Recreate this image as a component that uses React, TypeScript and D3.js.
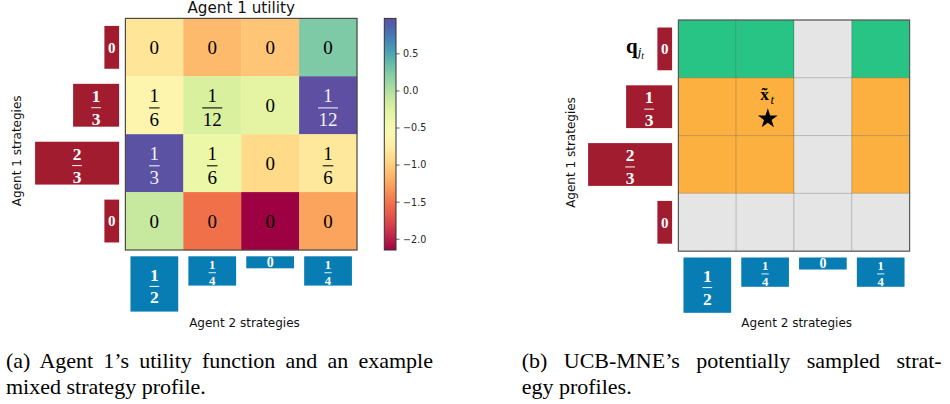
import React, { useLayoutEffect, useRef } from 'react';
import * as d3 from 'd3';

const W = 950;
const H = 404;

// Mixed strategies as [numerator, denominator]
const agent1Strategy: [number, number][] = [[0, 1], [1, 3], [2, 3], [0, 1]];
const agent2Strategy: [number, number][] = [[1, 2], [1, 4], [0, 1], [1, 4]];

// Agent 1 utility (rows: agent 1 actions, cols: agent 2 actions)
const utilityRow0 = [-0.83, -1.13, -1.06, 0.25];
const utilityRow1 = [-0.65, -0.22, -0.3, 0.98];
const utilityRow2 = [0.96, -0.37, -0.92, -0.8];
const utilityRow3 = [-0.11, -1.52, -2.145, -1.25];
const utilityRows = [utilityRow0, utilityRow1, utilityRow2, utilityRow3];
const utilityDomain: [number, number] = [-2.145, 0.978];
const colorbarTicks = [0.5, 0.0, -0.5, -1.0, -1.5, -2.0];

// Right panel: role of each agent-1 row in UCB-MNE sampling
const sampledRowRole = ['q', 'x', 'x', 'none'];
const starCell = { row: 1, col: 1 };

const titleText = 'Agent 1 utility';
const yAxisText = 'Agent 1 strategies';
const xAxisText = 'Agent 2 strategies';
const captionA = ['(a) Agent 1\u2019s utility function and an example', 'mixed strategy profile.'];
const captionB = ['(b) UCB-MNE\u2019s potentially sampled strat-', 'egy profiles.'];

const SANS = 'DejaVu Sans, sans-serif';
const SERIF = 'Liberation Serif, Times New Roman, serif';
const RED = '#a11c2e';
const BLUE = '#087db3';
const GREEN = '#27c485';
const ORANGE = '#fbb03f';
const GRAY = '#e5e5e5';

function gcd(a: number, b: number): number {
  return b === 0 ? a : gcd(b, a % b);
}
function reduce(n: number, d: number): [number, number] {
  if (n === 0) return [0, 1];
  const g = gcd(n, d);
  return [n / g, d / g];
}

type LabelProps = {
  cx: number;
  cy: number;
  frac: [number, number];
  size: number;
  fill: string;
  bold?: boolean;
};

function FracLabel({ cx, cy, frac, size, fill, bold }: LabelProps) {
  const [n, d] = frac;
  const common = {
    fontFamily: SERIF,
    fontSize: size,
    fontWeight: bold ? 700 : 400,
    fill,
    textAnchor: 'middle' as const,
  };
  if (d === 1) {
    return (
      <text x={cx} y={cy + 0.35 * size} {...common}>
        {String(n)}
      </text>
    );
  }
  const barY = cy + 0.14 * size;
  const digits = Math.max(String(n).length, String(d).length);
  const lw = digits * 0.5 * size + 1;
  return (
    <g>
      <text x={cx} y={barY - 0.33 * size} {...common}>
        {String(n)}
      </text>
      <line x1={cx - lw / 2} x2={cx + lw / 2} y1={barY} y2={barY} stroke={fill} strokeWidth={Math.max(0.9, size * 0.055)} />
      <text x={cx} y={barY + 0.97 * size} {...common}>
        {String(d)}
      </text>
    </g>
  );
}

function JustifiedText({ x, y, width, text, size }: { x: number; y: number; width?: number; text: string; size: number }) {
  const ref = useRef<SVGTextElement>(null);
  useLayoutEffect(() => {
    const el = ref.current;
    if (!el || !width) return;
    el.style.wordSpacing = '0px';
    const natural = el.getComputedTextLength();
    const spaces = (text.match(/ /g) || []).length;
    if (spaces > 0) el.style.wordSpacing = `${(width - natural) / spaces}px`;
  }, [text, width]);
  return (
    <text ref={ref} x={x} y={y} fontFamily={SERIF} fontSize={size} fill="#000" style={{ whiteSpace: 'pre' }}>
      {text}
    </text>
  );
}

type PanelGeom = { x0: number; y0: number; size: number };

function StrategyBars({ g }: { g: PanelGeom }) {
  const band = d3.scaleBand<number>().domain([0, 1, 2, 3]).range([g.y0, g.y0 + g.size]);
  const colBand = d3.scaleBand<number>().domain([0, 1, 2, 3]).range([g.x0, g.x0 + g.size]);
  const pScale = d3.scaleLinear().domain([0, 2 / 3]).range([8, 84]);
  const qScale = d3.scaleLinear().domain([0, 1 / 2]).range([3.3, 55.3]);
  const gap = 6.3;
  const barThick = band.bandwidth() * 0.74;
  const colThick = colBand.bandwidth() * 0.825;
  return (
    <g>
      {agent1Strategy.map((s, i) => {
        const p = s[0] / s[1];
        const w = Math.max(14.7, pScale(p));
        const cy = (band(i) as number) + band.bandwidth() / 2;
        const right = g.x0 - gap;
        const size = p === 0 ? 15 : Math.min(17.5, barThick / 2.35);
        return (
          <g key={'a1' + i}>
            <rect x={right - w} y={cy - barThick / 2} width={w} height={barThick} fill={RED} />
            <FracLabel cx={right - w / 2} cy={cy} frac={reduce(s[0], s[1])} size={size} fill="#fff" bold />
          </g>
        );
      })}
      {agent2Strategy.map((s, j) => {
        const q = s[0] / s[1];
        const h = Math.max(12, qScale(q));
        const cx = (colBand(j) as number) + colBand.bandwidth() / 2;
        const top = g.y0 + g.size + gap;
        const size = q === 0 ? 14 : Math.min(17.5, h / 2.3);
        return (
          <g key={'a2' + j}>
            <rect x={cx - colThick / 2} y={top} width={colThick} height={h} fill={BLUE} />
            <FracLabel cx={cx} cy={top + h / 2} frac={reduce(s[0], s[1])} size={size} fill="#fff" bold />
          </g>
        );
      })}
    </g>
  );
}

function UtilityPanel() {
  const g: PanelGeom = { x0: 125.4, y0: 18.4, size: 231.6 };
  const xB = d3.scaleBand<number>().domain([0, 1, 2, 3]).range([g.x0, g.x0 + g.size]);
  const yB = d3.scaleBand<number>().domain([0, 1, 2, 3]).range([g.y0, g.y0 + g.size]);
  const color = d3.scaleSequential(d3.interpolateSpectral).domain(utilityDomain);
  const cb = { x: 384.3, w: 11.7 };
  const cbY = d3.scaleLinear().domain(utilityDomain).range([g.y0 + g.size, g.y0]);
  const stops = d3.range(0, 1.0001, 0.05);
  return (
    <g>
      <defs>
        <linearGradient id="spectral" x1="0" y1="1" x2="0" y2="0">
          {stops.map((t) => (
            <stop key={t} offset={t} stopColor={d3.interpolateSpectral(t)} />
          ))}
        </linearGradient>
      </defs>
      <text x={241.2} y={13.2} fontFamily={SANS} fontSize={15.2} textAnchor="middle" fill="#111">
        {titleText}
      </text>
      {utilityRows.map((row, i) =>
        row.map((v, j) => {
          const x = xB(j) as number;
          const y = yB(i) as number;
          const a = agent1Strategy[i];
          const b = agent2Strategy[j];
          const frac = reduce(a[0] * b[0], a[1] * b[1]);
          return (
            <g key={`c${i}-${j}`}>
              <rect x={x} y={y} width={xB.bandwidth() + 0.3} height={yB.bandwidth() + 0.3} fill={color(v)} />
              <FracLabel
                cx={x + xB.bandwidth() / 2}
                cy={y + yB.bandwidth() / 2}
                frac={frac}
                size={19}
                fill={v > 0.8 ? '#f4f2ff' : '#000'}
              />
            </g>
          );
        })
      )}
      <rect x={g.x0} y={g.y0} width={g.size} height={g.size} fill="none" stroke="#4a4a4a" strokeWidth={1.2} />
      <StrategyBars g={g} />
      {/* colorbar */}
      <rect x={cb.x} y={g.y0} width={cb.w} height={g.size} fill="url(#spectral)" stroke="#333" strokeWidth={1} />
      {colorbarTicks.map((t) => (
        <g key={t}>
          <line x1={cb.x + cb.w} x2={cb.x + cb.w + 3.5} y1={cbY(t)} y2={cbY(t)} stroke="#333" strokeWidth={0.8} />
          <text x={cb.x + cb.w + 7} y={cbY(t)} dy="0.35em" fontFamily={SANS} fontSize={9.6} fill="#262626">
            {t < 0 ? '\u2212' + Math.abs(t).toFixed(1) : t.toFixed(1)}
          </text>
        </g>
      ))}
      <text transform="translate(16.7,150.8) rotate(-90)" fontFamily={SANS} fontSize={12} textAnchor="middle" dy="0.35em" fill="#111">
        {yAxisText}
      </text>
      <text x={244.5} y={326.5} fontFamily={SANS} fontSize={12} textAnchor="middle" fill="#111">
        {xAxisText}
      </text>
    </g>
  );
}

function SamplingPanel() {
  const g: PanelGeom = { x0: 678.4, y0: 20, size: 231.2 };
  const xB = d3.scaleBand<number>().domain([0, 1, 2, 3]).range([g.x0, g.x0 + g.size]);
  const yB = d3.scaleBand<number>().domain([0, 1, 2, 3]).range([g.y0, g.y0 + g.size]);
  const star = d3.symbol().type(d3.symbolStar).size(122)();
  const sx = (xB(starCell.col) as number) + xB.bandwidth() / 2;
  const sy = (yB(starCell.row) as number) + yB.bandwidth() / 2;
  return (
    <g>
      {sampledRowRole.map((role, i) =>
        agent2Strategy.map((s, j) => {
          const supported = s[0] > 0;
          const fill = !supported || role === 'none' ? GRAY : role === 'q' ? GREEN : ORANGE;
          return (
            <rect
              key={`s${i}-${j}`}
              x={xB(j) as number}
              y={yB(i) as number}
              width={xB.bandwidth()}
              height={yB.bandwidth()}
              fill={fill}
              stroke="rgba(0,0,0,0.15)"
              strokeWidth={1}
            />
          );
        })
      )}
      <rect x={g.x0} y={g.y0} width={g.size} height={g.size} fill="none" stroke="#5a5a5a" strokeWidth={1.2} />
      <StrategyBars g={g} />
      {/* q_{j_t} label */}
      <text x={626} y={52.6} fontFamily={SERIF} fill="#000">
        <tspan fontWeight={700} fontSize={21}>q</tspan>
        <tspan fontStyle="italic" fontSize={13} dy={3.5}>j</tspan>
        <tspan fontStyle="italic" fontSize={9.5} dy={2.6}>t</tspan>
      </text>
      {/* x tilde label */}
      <text x={sx - 0.6} y={sy - 6.3} fontFamily={SERIF} fontWeight={700} fontSize={17.5} textAnchor="middle" fill="#000">
        x
      </text>
      <text x={sx - 0.6} y={sy - 6.3} fontFamily={SERIF} fontWeight={700} fontSize={17.5} textAnchor="middle" fill="#000">
        {'\u02dc'}
      </text>
      <text x={sx + 5.4} y={sy - 2.8} fontFamily={SERIF} fontStyle="italic" fontSize={12.5} fill="#000">
        t
      </text>
      <path d={star as string} transform={`translate(${sx + 2.7},${sy + 12})`} fill="#000" />
      <text transform="translate(571,152.5) rotate(-90)" fontFamily={SANS} fontSize={12} textAnchor="middle" dy="0.35em" fill="#111">
        {yAxisText}
      </text>
      <text x={796.7} y={327} fontFamily={SANS} fontSize={12} textAnchor="middle" fill="#111">
        {xAxisText}
      </text>
    </g>
  );
}

export default function App() {
  return (
    <svg width={W} height={H} viewBox={`0 0 ${W} ${H}`} style={{ position: 'absolute', left: 0, top: 0, background: '#fff' }}>
      <rect x={0} y={0} width={W} height={H} fill="#fff" />
      <UtilityPanel />
      <SamplingPanel />
      <JustifiedText x={6} y={368} width={427} text={captionA[0]} size={22} />
      <JustifiedText x={6} y={394} text={captionA[1]} size={22} />
      <JustifiedText x={521.7} y={368} width={420} text={captionB[0]} size={22} />
      <JustifiedText x={521.7} y={394} text={captionB[1]} size={22} />
    </svg>
  );
}
